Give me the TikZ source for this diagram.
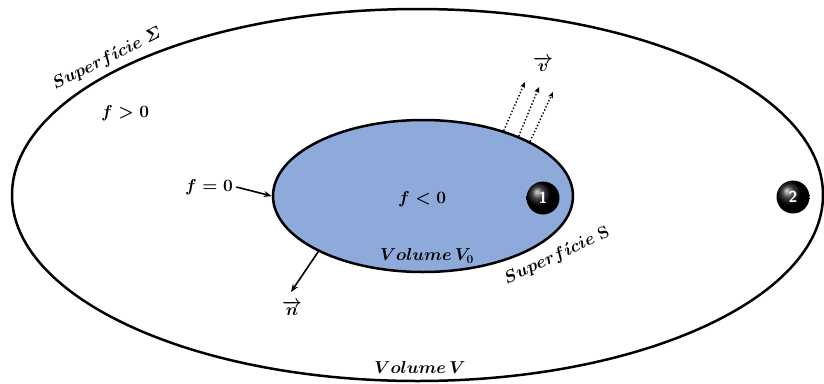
\documentclass[tikz,border=0pt]{standalone}
\usepackage{amsmath}
\usetikzlibrary{shapes.geometric,arrows.meta}
\definecolor{volblue}{RGB}{142,170,219}

\begin{document}
\begin{tikzpicture}[x=1pt,y=-1pt,
  font=\fontsize{18}{22}\selectfont\boldmath,
  region/.style={ellipse,draw,line width=2.5pt,inner sep=0pt},
  ball/.style={circle,shading=ball,ball color=black,text=white,font=\fontsize{16}{16}\selectfont\sffamily\bfseries,minimum size=33pt,inner sep=0pt},
  normal/.style={line width=1.6pt,-{Stealth[length=8pt,width=6pt]}},
  flux/.style={line width=1.4pt,dotted,-{Stealth[length=6pt,width=5pt]}}]
\useasboundingbox (0,0) rectangle (824,383);
\node[region,minimum width=811pt,minimum height=372pt] (outer) at (417.5,195) {};
\node[region,fill=volblue,minimum width=300pt,minimum height=152pt] (inner) at (423,196) {};
\node[rotate=26.6] (sigma) at (107,59) {$Superf\acute{\imath}cie\ \varSigma$};
\node[rotate=25] (surf) at (557,256) {$Superf\acute{\imath}cie\ \mathbf{S}$};
\node (fpos) at (125,113) {$f>0$};
\node (fzero) at (209,187) {$f=0$};
\node (fneg) at (422,199) {$f<0$};
\node (vzero) at (427,256) {$Volume\,V_0$};
\node (vol) at (420,367) {$Volume\,V$};
\node[ball] (one) at (543,198) {1};
\node[ball] (two) at (793,197) {2};
\node (nlab) at (292,308) {$\overrightarrow{n}$};
\node (vlab) at (543,64) {$\overrightarrow{v}$};
\coordinate (ntip) at (291,292);
\draw[normal] (fzero.east) -- (inner.west);
\draw[normal] (inner.208) -- (ntip);
\foreach \a/\x/\y [count=\i] in {39.5/525/82, 32/539/87, 27.6/553/92}{
  \coordinate (v\i) at (\x,\y);
  \draw[flux] (inner.\a) -- (v\i);
}
\end{tikzpicture}
\end{document}
